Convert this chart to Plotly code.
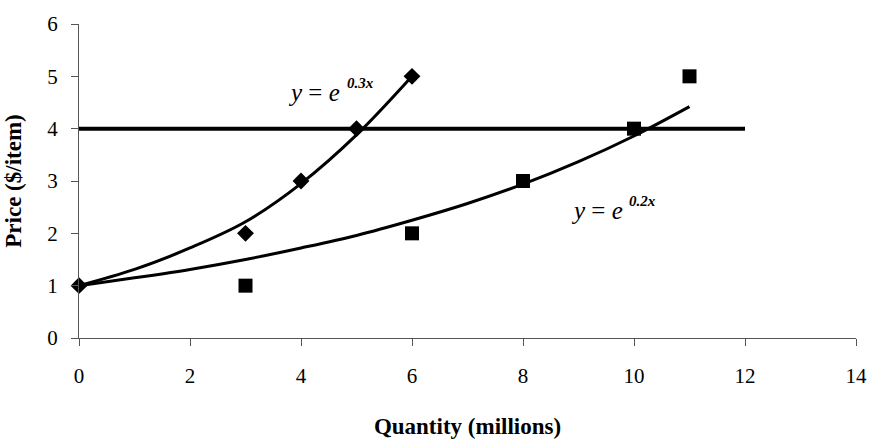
import plotly.graph_objects as go

# Data
diamond_x = [0, 3, 4, 5, 6]
diamond_y = [1, 2, 3, 4, 5]
square_x = [3, 6, 8, 10, 11]
square_y = [1, 2, 3, 4, 5]

curve1_x = [0, 1, 2, 3, 4, 5, 6]
curve1_y = [1.0, 1.31, 1.72, 2.22, 2.95, 3.88, 5.0]
curve2_x = [0, 1, 2, 3, 4, 5, 6, 7, 8, 9, 10, 11]
curve2_y = [1.0, 1.15, 1.31, 1.5, 1.72, 1.96, 2.25, 2.57, 2.94, 3.37, 3.86, 4.42]

price_line_x = [0, 12]
price_line_y = [4, 4]

x_ticks = [0, 2, 4, 6, 8, 10, 12, 14]
y_ticks = [0, 1, 2, 3, 4, 5, 6]

FONT = "Liberation Serif"

fig = go.Figure()
fig.add_trace(go.Scatter(x=price_line_x, y=price_line_y, mode="lines",
                         line=dict(color="black", width=4), cliponaxis=False))
fig.add_trace(go.Scatter(x=curve2_x, y=curve2_y, mode="lines",
                         line=dict(color="black", width=3, shape="spline"), cliponaxis=False))
fig.add_trace(go.Scatter(x=curve1_x, y=curve1_y, mode="lines",
                         line=dict(color="black", width=3, shape="spline"), cliponaxis=False))
fig.add_trace(go.Scatter(x=square_x, y=square_y, mode="markers",
                         marker=dict(symbol="square", size=14, color="black"), cliponaxis=False))
fig.add_trace(go.Scatter(x=diamond_x, y=diamond_y, mode="markers",
                         marker=dict(symbol="diamond", size=13, color="black"), cliponaxis=False))

annots = [
    dict(x=3.73, y=4.69, text="<i>y</i> = <i>e</i>", size=25, xanchor="left"),
    dict(x=5.07, y=4.88, text="<b><i>0.3x</i></b>", size=15, xanchor="center"),
    dict(x=8.83, y=2.43, text="<i>y</i> = <i>e</i>", size=25, xanchor="left"),
    dict(x=10.15, y=2.62, text="<b><i>0.2x</i></b>", size=15, xanchor="center"),
]
for a in annots:
    fig.add_annotation(x=a["x"], y=a["y"], text=a["text"], showarrow=False,
                       xanchor=a["xanchor"], yanchor="middle",
                       font=dict(family=FONT, size=a["size"], color="black"))

fig.update_layout(
    width=879, height=446,
    margin=dict(l=78, r=16, t=22, b=100),
    paper_bgcolor="white", plot_bgcolor="white",
    showlegend=False,
    font=dict(family=FONT, color="black"),
)
fig.update_xaxes(range=[0, 14], tickvals=x_ticks, ticktext=[str(v) for v in x_ticks],
                 showgrid=False, zeroline=False, showline=True, linecolor="#555", linewidth=1,
                 ticks="outside", ticklen=7, tickcolor="#555", ticklabelstandoff=12,
                 tickfont=dict(family=FONT, size=21, color="black"),
                 title=dict(text="<b>Quantity (millions)</b>", font=dict(family=FONT, size=23, color="black"),
                            standoff=30))
fig.update_yaxes(range=[0, 6], tickvals=y_ticks, ticktext=[str(v) for v in y_ticks],
                 showgrid=False, zeroline=False, showline=True, linecolor="#555", linewidth=1,
                 ticks="outside", ticklen=7, tickcolor="#555", ticklabelstandoff=9,
                 tickfont=dict(family=FONT, size=21, color="black"),
                 title=dict(text="<b>Price ($/item)</b>", font=dict(family=FONT, size=23, color="black"),
                            standoff=19))

fig.write_html("out.html", config={"displayModeBar": False},
               post_script="document.body.style.margin='0';")
